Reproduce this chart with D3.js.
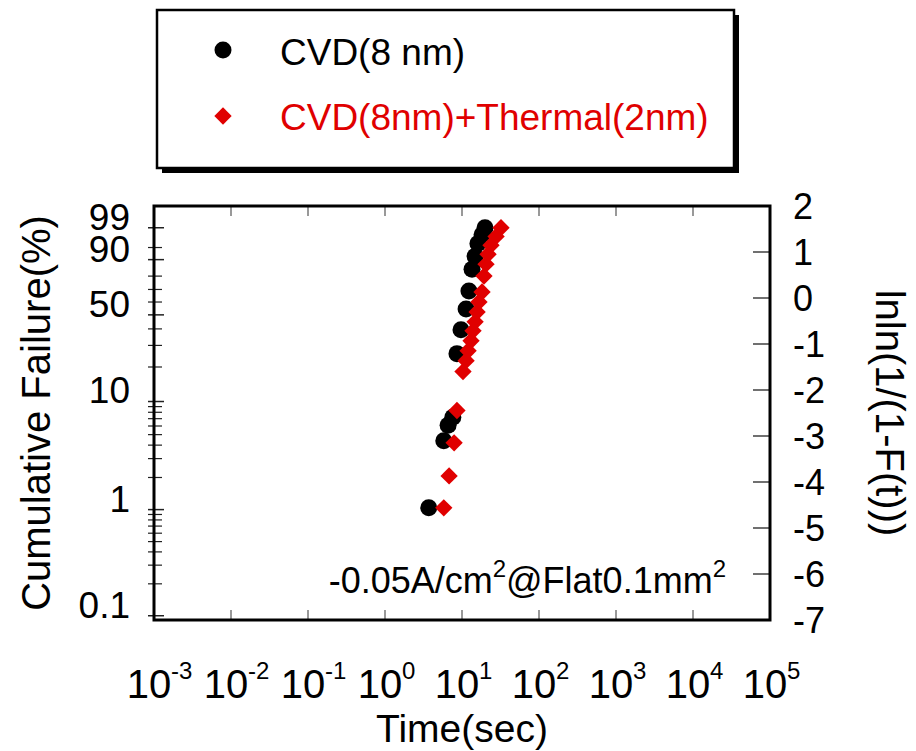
<!DOCTYPE html>
<html>
<head>
<meta charset="utf-8">
<script src="https://cdn.jsdelivr.net/npm/d3@7"></script>
<style>
  body { margin: 0; background: #fff; }
  text { font-family: Arial, "Liberation Sans", sans-serif; }
</style>
</head>
<body>
<div id="chart"></div>
<script>
// CVD (8 nm) : time to failure (sec) and cumulative failure (%)
const cvdTime = [3.7, 5.8, 6.6, 7.6, 8.6, 9.7, 11.3, 12.3, 13.5, 14.8, 16.1, 18.2, 19.9];
const cvdF    = [1.04, 4.4, 6.1, 7.2, 25.8, 39.4, 54.5, 68.7, 84.6, 91.6, 96.2, 98.1, 99.0];

// CVD (8nm) + Thermal (2nm)
const thermTime = [5.8, 6.8, 7.9, 8.6, 10.3, 11.3, 12.0, 13.1, 13.9, 14.8, 15.7, 16.6, 18.2, 19.3, 20.5, 21.8, 23.8, 27.7, 32.1];
const thermF    = [1.04, 2.07, 4.2, 8.3, 18.3, 22.6, 27.2, 32.6, 38.7, 44.9, 52.2, 60.0, 68.0, 80.0, 87.6, 92.5, 95.7, 97.8, 99.0];

const xExponents = [-3, -2, -1, 0, 1, 2, 3, 4, 5];
const leftMajor = [0.1, 1, 10, 50, 90, 99];
const leftMinor = [0.2, 0.3, 0.4, 0.5, 0.6, 0.7, 0.8, 0.9, 2, 3, 4, 5, 6, 7, 8, 9, 20, 30, 40, 60, 70, 80, 95];
const rightTicks = [2, 1, 0, -1, -2, -3, -4, -5, -6, -7];

const seriesNames = ["CVD(8 nm)", "CVD(8nm)+Thermal(2nm)"];
const red = "#e00000";

const margin = {top: 206, right: 146, bottom: 131, left: 154};
const W = 916, H = 751;
const width = W - margin.left - margin.right;
const height = H - margin.top - margin.bottom;

// weibull transform of a percentage
function lnln(p) { return Math.log(-Math.log(1 - p / 100)); }

const svg = d3.select("#chart").append("svg")
  .attr("width", W)
  .attr("height", H);

svg.append("rect").attr("width", W).attr("height", H).attr("fill", "#fff");

const g = svg.append("g")
  .attr("transform", "translate(" + margin.left + "," + margin.top + ")");

const x = d3.scaleLog()
  .domain([1e-3, 1e5])
  .range([0, width]);

const y = d3.scaleLinear()
  .domain([-7, 2])
  .range([height, 0]);

// x ticks (inside, top and bottom)
const xt = xExponents.slice(1, -1);
g.selectAll("line.xtop").data(xt).join("line")
  .attr("x1", function(d) { return x(Math.pow(10, d)); })
  .attr("x2", function(d) { return x(Math.pow(10, d)); })
  .attr("y1", 0).attr("y2", 10)
  .attr("stroke", "#777").attr("stroke-width", 1.5);
g.selectAll("line.xbot").data(xt).join("line")
  .attr("x1", function(d) { return x(Math.pow(10, d)); })
  .attr("x2", function(d) { return x(Math.pow(10, d)); })
  .attr("y1", height).attr("y2", height - 10)
  .attr("stroke", "#777").attr("stroke-width", 1.5);

// x tick labels 10^n
const xl = g.selectAll("g.xl").data(xExponents).join("g")
  .attr("transform", function(d) { return "translate(" + (x(Math.pow(10, d)) - 5) + "," + (height + 78) + ")"; });
xl.append("text")
  .attr("text-anchor", "middle")
  .style("font-size", "40px")
  .text("10");
xl.append("text")
  .attr("x", 22)
  .attr("y", -19)
  .style("font-size", "24px")
  .text(function(d) { return d; });

// left axis ticks
g.selectAll("line.lmin").data(leftMinor).join("line")
  .attr("x1", -6).attr("x2", 8)
  .attr("y1", function(d) { return y(lnln(d)); })
  .attr("y2", function(d) { return y(lnln(d)); })
  .attr("stroke", "#222").attr("stroke-width", 1.2);
g.selectAll("line.lmaj").data(leftMajor).join("line")
  .attr("x1", -6).attr("x2", 10)
  .attr("y1", function(d) { return y(lnln(d)); })
  .attr("y2", function(d) { return y(lnln(d)); })
  .attr("stroke", "#222").attr("stroke-width", 1.5);
g.selectAll("text.ll").data(leftMajor).join("text")
  .attr("class", "ll")
  .attr("x", -24)
  .attr("y", function(d) { return y(lnln(d)) - 11; })
  .attr("dy", "0.35em")
  .attr("text-anchor", "end")
  .style("font-size", "37px")
  .text(function(d) { return d; });

// right axis
g.selectAll("line.rt").data(rightTicks.slice(1, -1)).join("line")
  .attr("x1", width - 17).attr("x2", width)
  .attr("y1", function(d) { return y(d); })
  .attr("y2", function(d) { return y(d); })
  .attr("stroke", "#111").attr("stroke-width", 1.2);
g.selectAll("text.rl").data(rightTicks).join("text")
  .attr("class", "rl")
  .attr("x", width + 23)
  .attr("y", function(d) { return y(d); })
  .attr("dy", "0.35em")
  .style("font-size", "36px")
  .text(function(d) { return d < 0 ? "-" + Math.abs(d) : d; });

// frame
g.append("rect")
  .attr("width", width).attr("height", height)
  .attr("fill", "none").attr("stroke", "#000").attr("stroke-width", 3);

// data
const cvd = cvdTime.map(function(t, i) { return {t: t, f: cvdF[i]}; });
const therm = thermTime.map(function(t, i) { return {t: t, f: thermF[i]}; });

g.selectAll("circle.cvd").data(cvd).join("circle")
  .attr("cx", function(d) { return x(d.t); })
  .attr("cy", function(d) { return y(lnln(d.f)); })
  .attr("r", 8.5)
  .attr("fill", "#000");

const diamond = d3.symbol().type(d3.symbolSquare).size(150);
g.selectAll("path.th").data(therm).join("path")
  .attr("d", diamond)
  .attr("transform", function(d) { return "translate(" + x(d.t) + "," + y(lnln(d.f)) + ") rotate(45)"; })
  .attr("fill", red);

// annotation
const ann = g.append("text")
  .attr("x", 572)
  .attr("y", 387)
  .attr("text-anchor", "end")
  .style("font-size", "36px");
ann.append("tspan").text("-0.05A/cm");
ann.append("tspan").attr("dy", -16).style("font-size", "24px").text("2");
ann.append("tspan").attr("dy", 16).text("@Flat0.1mm");
ann.append("tspan").attr("dy", -16).style("font-size", "24px").text("2");

// axis titles
svg.append("text")
  .attr("transform", "translate(50," + (margin.top + height / 2) + ") rotate(-90)")
  .attr("text-anchor", "middle")
  .style("font-size", "40px")
  .text("Cumulative Failure(%)");

svg.append("text")
  .attr("transform", "translate(876," + (margin.top + height / 2) + ") rotate(90)")
  .attr("text-anchor", "middle")
  .style("font-size", "40px")
  .text("lnln(1/(1-F(t)))");

svg.append("text")
  .attr("x", margin.left + width / 2)
  .attr("y", 742)
  .attr("text-anchor", "middle")
  .style("font-size", "39px")
  .text("Time(sec)");

// legend
const leg = svg.append("g");
leg.append("rect")
  .attr("x", 162).attr("y", 15).attr("width", 577).attr("height", 158)
  .attr("fill", "#000");
leg.append("rect")
  .attr("x", 157).attr("y", 10).attr("width", 577).attr("height", 158)
  .attr("fill", "#fff").attr("stroke", "#000").attr("stroke-width", 2.5);

leg.append("circle")
  .attr("cx", 223).attr("cy", 50).attr("r", 8.5).attr("fill", "#000");
leg.append("path")
  .attr("d", diamond)
  .attr("transform", "translate(223,116) rotate(45)")
  .attr("fill", red);

leg.selectAll("text.lt").data(seriesNames).join("text")
  .attr("class", "lt")
  .attr("x", 280)
  .attr("y", function(d, i) { return i === 0 ? 65 : 130; })
  .style("font-size", "37px")
  .attr("fill", function(d, i) { return i === 0 ? "#000" : red; })
  .text(function(d) { return d; });
</script>
</body>
</html>
